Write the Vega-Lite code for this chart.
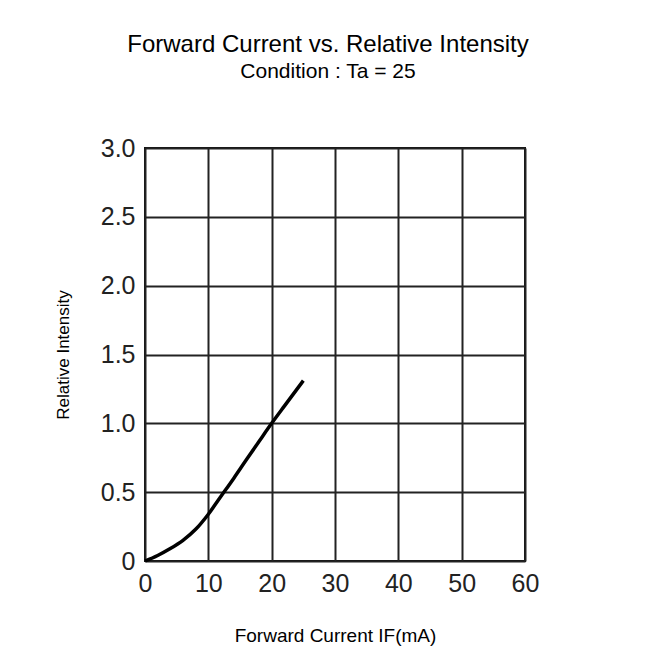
{
  "$schema": "https://vega.github.io/schema/vega-lite/v6.json",
  "autosize": {"type": "none"},
  "padding": {"left": 145, "top": 148, "right": 127, "bottom": 104},
  "width": 380,
  "height": 413,
  "background": "#ffffff",
  "title": {
    "text": "Forward Current vs. Relative Intensity",
    "subtitle": "Condition : Ta = 25",
    "anchor": "middle",
    "frame": "group",
    "offset": 54,
    "dx": -7,
    "font": "Liberation Sans",
    "fontSize": 24,
    "fontWeight": "normal",
    "color": "#000000",
    "subtitleFont": "Liberation Sans",
    "subtitleFontSize": 21,
    "subtitleColor": "#000000",
    "subtitlePadding": 4
  },
  "config": {
    "view": {"stroke": "#111111", "strokeWidth": 2},
    "axis": {
      "grid": true,
      "gridColor": "#222222",
      "gridWidth": 2,
      "gridOpacity": 1,
      "domain": false,
      "ticks": false,
      "labelFlush": false,
      "labelFont": "Liberation Sans",
      "labelFontSize": 25,
      "labelColor": "#222222",
      "titleFont": "Liberation Sans",
      "titleFontWeight": "normal",
      "titleColor": "#000000"
    }
  },
  "data": {
    "values": [
      {"current": 0, "intensity": 0},
      {"current": 2, "intensity": 0.04},
      {"current": 4, "intensity": 0.09},
      {"current": 6, "intensity": 0.15},
      {"current": 8, "intensity": 0.23},
      {"current": 10, "intensity": 0.34},
      {"current": 12, "intensity": 0.47},
      {"current": 14, "intensity": 0.6},
      {"current": 16, "intensity": 0.735},
      {"current": 18, "intensity": 0.868},
      {"current": 20, "intensity": 1.0},
      {"current": 22, "intensity": 1.125},
      {"current": 25, "intensity": 1.31}
    ]
  },
  "mark": {"type": "line", "color": "#000000", "strokeWidth": 3.5, "interpolate": "monotone"},
  "encoding": {
    "x": {
      "field": "current",
      "type": "quantitative",
      "scale": {"domain": [0, 60], "nice": false},
      "axis": {
        "values": [0, 10, 20, 30, 40, 50, 60],
        "labelPadding": 10,
        "title": "Forward Current IF(mA)",
        "titleFontSize": 19,
        "titlePadding": 30
      }
    },
    "y": {
      "field": "intensity",
      "type": "quantitative",
      "scale": {"domain": [0, 3], "nice": false},
      "axis": {
        "values": [0, 0.5, 1, 1.5, 2, 2.5, 3],
        "labelExpr": "datum.value == 0 ? '0' : format(datum.value, '.1f')",
        "labelPadding": 10,
        "title": "Relative Intensity",
        "titleFontSize": 17,
        "titlePadding": 28
      }
    }
  }
}
